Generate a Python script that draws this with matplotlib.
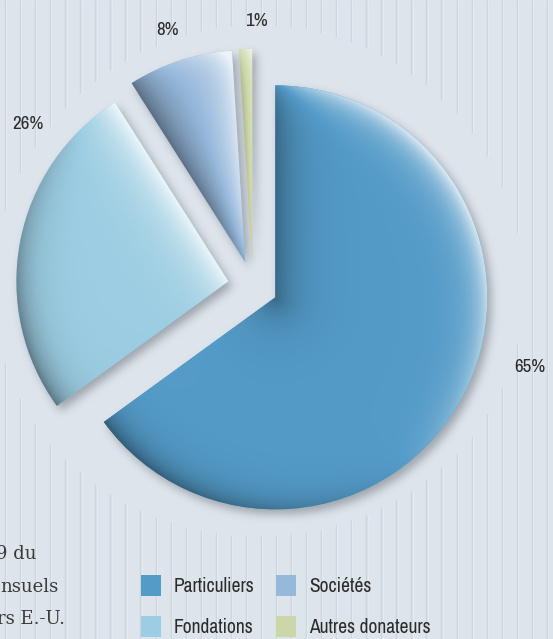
import os
import numpy as np
import matplotlib
matplotlib.use('Agg')
import matplotlib.pyplot as plt
from matplotlib import font_manager as fm
from matplotlib.colors import to_rgb

# ---------------- data ----------------
categories = ['Particuliers', 'Fondations', 'Sociétés', 'Autres donateurs']
values = [65, 26, 8, 1]
colors = ['#549bc8', '#9ccde2', '#96b8db', '#cbd7a9']
pct_labels = ['65%', '26%', '8%', '1%']
body_lines = ['9 du', 'nsuels', 'rs E.-U.']

# ---------------- layout ----------------
W, H = 553, 639
S = 212.0            # pixels per data unit (pie radius = 1)
CX, CY = 253.0, 286.0
XL = (-CX / S, (W - CX) / S)
YL = ((CY - H) / S, CY / S)
BG = '#dde4eb'

fig = plt.figure(figsize=(W / 100, H / 100), dpi=100)
fig.patch.set_facecolor(BG)


def pick_condensed():
    pref = []
    for f in fm.fontManager.ttflist:
        fn = os.path.basename(f.fname).lower()
        nm = f.name.lower()
        if f.style != 'normal':
            continue
        if any(k in fn for k in ('bold', 'light', 'thin', 'black', 'medium', 'italic', 'semibold', 'extrabold')):
            continue
        if 'mono' in nm or ('serif' in nm and 'sans' not in nm):
            continue
        st = str(f.stretch).lower()
        score = None
        if st in ('extra-condensed', 'condensed', 'ultra-condensed') or ('condensed' in fn and 'semi' not in fn):
            score = 0
        elif 'narrow' in nm or 'narrow' in fn:
            score = 1
        elif st == 'semi-condensed' or 'semicondensed' in fn:
            score = 2
        if score is not None:
            pref.append((score, fn, f.fname))
    if pref:
        pref.sort()
        return fm.FontProperties(fname=pref[0][2])
    return fm.FontProperties(family='DejaVu Sans')


fp = pick_condensed()
renderer = fig.canvas.get_renderer()


def text_w(s, prop, size):
    t = fig.text(0, 0, s, fontproperties=prop, fontsize=size)
    bb = t.get_window_extent(renderer)
    t.remove()
    return bb.width, bb.height


# fit legend and label font sizes on the measured widths
w10, _ = text_w('Particuliers', fp, 10)
leg_fs = min(16.0, 10 * 82.0 / w10)
w10, _ = text_w('65%', fp, 10)
lab_fs = min(17.0, 10 * 31.0 / w10)

# ---------------- background stripes ----------------
axb = fig.add_axes([0, 0, 1, 1], zorder=0)
axb.set_xlim(0, W)
axb.set_ylim(H, 0)
axb.axis('off')
ex, ey, ea, eb_top, eb_bot = 258.0, 290.0, 265.0, 265.0, 246.0
for x in np.arange(5, W, 15.05):
    dx = x - ex
    if abs(dx) < ea:
        f = np.sqrt(1 - (dx / ea) ** 2)
        segs = [(0, ey - eb_top * f), (ey + eb_bot * f, H)]
    else:
        segs = [(0, H)]
    for y0, y1 in segs:
        axb.plot([x, x], [y0, y1], color='#ccd6df', lw=1.0, solid_capstyle='butt')
        axb.plot([x + 1.3, x + 1.3], [y0, y1], color='#e7ecf1', lw=0.6, solid_capstyle='butt')

# ---------------- pie ----------------
ax = fig.add_axes([0, 0, 1, 1], zorder=1)
ax.patch.set_alpha(0)
wedges, _ = ax.pie(values, colors=colors, startangle=90, counterclock=False,
                   explode=[0.118] * len(values), radius=1.0,
                   wedgeprops=dict(linewidth=0))
ax.set_xlim(*XL)
ax.set_ylim(*YL)
ax.set_aspect('auto')
ax.axis('off')

xs = XL[0] + (np.arange(W) + 0.5) / S
ys = YL[1] - (np.arange(H) + 0.5) / S
X, Y = np.meshgrid(xs, ys)
ext = (XL[0], XL[1], YL[0], YL[1])


def inside(w, X, Y):
    cx, cy = w.center
    dx, dy = X - cx, Y - cy
    r = np.hypot(dx, dy)
    ang = np.degrees(np.arctan2(dy, dx))
    rel = np.mod(ang - w.theta1, 360.0)
    return (r <= w.r) & (rel <= (w.theta2 - w.theta1))


# drop shadow
sh_dx, sh_dy = 4.0 / S, -5.0 / S
mask = np.zeros_like(X)
for w in wedges:
    mask = np.maximum(mask, inside(w, X - sh_dx, Y - sh_dy).astype(float))
sig = 4.5
k = np.arange(-14, 15)
ker = np.exp(-0.5 * (k / sig) ** 2)
ker /= ker.sum()
bl = np.apply_along_axis(lambda v: np.convolve(v, ker, mode='same'), 1, mask)
bl = np.apply_along_axis(lambda v: np.convolve(v, ker, mode='same'), 0, bl)
shadow = np.zeros((H, W, 4))
shadow[..., 0] = 0.42
shadow[..., 1] = 0.44
shadow[..., 2] = 0.47
shadow[..., 3] = bl * 0.55
ax.imshow(shadow, extent=ext, origin='upper', zorder=1, interpolation='nearest', aspect='auto')

# bevel shading of each slice
L = np.array([0.8, 0.6])
wa, ws = 15.0 / S, 22.0 / S
kl, kd = 0.82, 0.42
for w, c in zip(wedges, colors):
    w.set_zorder(2)
    base = np.array(to_rgb(c))
    cx, cy = w.center
    dx, dy = X - cx, Y - cy
    r = np.maximum(np.hypot(dx, dy), 1e-9)
    d_arc = np.clip(w.r - r, 0, None)
    s_arc = (dx / r) * L[0] + (dy / r) * L[1]
    a1, a2 = np.radians(w.theta1), np.radians(w.theta2)
    u1 = np.array([np.cos(a1), np.sin(a1)])
    n1 = np.array([np.sin(a1), -np.cos(a1)])
    u2 = np.array([np.cos(a2), np.sin(a2)])
    n2 = np.array([-np.sin(a2), np.cos(a2)])
    t1 = dx * u1[0] + dy * u1[1]
    t2 = dx * u2[0] + dy * u2[1]
    d1 = np.where(t1 > 0, np.abs(dx * n1[0] + dy * n1[1]), r)
    d2 = np.where(t2 > 0, np.abs(dx * n2[0] + dy * n2[1]), r)
    s = (s_arc * np.exp(-d_arc / wa) + (n1 @ L) * np.exp(-d1 / ws)
         + (n2 @ L) * np.exp(-d2 / ws))
    s = np.clip(s, -1, 1)[..., None]
    img = np.where(s > 0, base + (1 - base) * s * kl, base * (1 + s * kd))
    im = ax.imshow(np.clip(img, 0, 1), extent=ext, origin='upper', zorder=3,
                   interpolation='bilinear', aspect='auto')
    im.set_clip_path(w)

# percentage labels
label_pos = [(1.307, -0.382), (-1.061, 0.762), (-0.401, 1.208), (0.014, 1.250)]
for txt, (lx, ly) in zip(pct_labels, label_pos):
    ax.text(lx, ly, txt, fontproperties=fp, fontsize=lab_fs, color='#2b2b2b',
            ha='center', va='center', zorder=5)

# body text fragments (cut at the left edge, as in the source page)
body_ends = [(37, 559), (59, 592), (65, 624)]
for txt, (xe, yb) in zip(body_lines, body_ends):
    fig.text(xe / W, 1 - yb / H, txt, family=['DejaVu Serif'], fontsize=13,
             color='#3a3a3a', ha='right', va='baseline')

# ---------------- legend ----------------
fp_leg = fp.copy()
fp_leg.set_size(leg_fs)
fpx = leg_fs * 100 / 72.0
maxw = max(text_w(categories[0], fp, leg_fs)[0], text_w(categories[1], fp, leg_fs)[0])
hh = (21.0 - 0.245 * fpx) / (0.65 * fpx)
params = dict(handlelength=20 / fpx, handleheight=hh, handletextpad=13 / fpx,
              columnspacing=max(0.1, (276 - 141 - 20 - 13 - maxw) / fpx),
              labelspacing=0.6)
anchor = [141 / W, 1 - 575 / H]
leg = None
for it in range(3):
    if leg is not None:
        leg.remove()
    leg = ax.legend(wedges, categories, ncol=2, frameon=False, loc='upper left',
                    bbox_to_anchor=tuple(anchor), bbox_transform=fig.transFigure,
                    borderpad=0, borderaxespad=0, prop=fp_leg,
                    labelcolor='#2b2b2b', **params)
    fig.canvas.draw()
    hb = [h.get_window_extent(renderer) for h in leg.legend_handles]
    pitch = hb[0].y1 - hb[1].y1
    params['labelspacing'] += (41 - pitch) / fpx
    anchor[0] += (141 - hb[0].x0) / W
    anchor[1] += ((H - 575) - hb[0].y1) / H
    c2 = hb[2].x0
    params['columnspacing'] = max(0.05, params['columnspacing'] + (276 - c2) / fpx)

fig.savefig('out.png', dpi=100, facecolor=BG)
